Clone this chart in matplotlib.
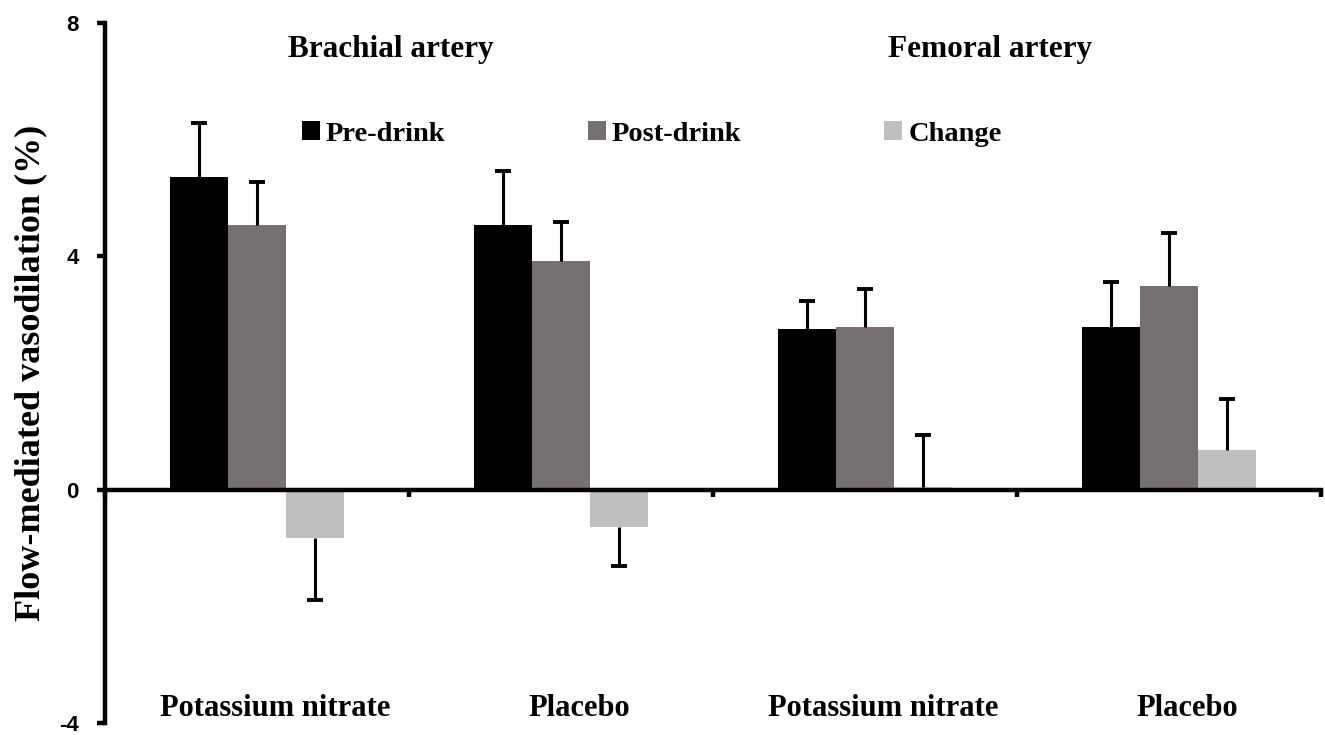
import numpy as np
import matplotlib.pyplot as plt
from matplotlib.patches import Patch

# datos
categories = ['Potassium nitrate', 'Placebo', 'Potassium nitrate', 'Placebo']
arteries = ['Brachial artery', 'Femoral artery']
series = ['Pre-drink', 'Post-drink', 'Change']
pre = [5.36, 4.54, 2.75, 2.79]
pre_err = [0.93, 0.92, 0.49, 0.78]
post = [4.54, 3.92, 2.79, 3.49]
post_err = [0.73, 0.67, 0.65, 0.91]
change = [-0.83, -0.63, 0.04, 0.69]
change_err = [1.06, 0.67, 0.90, 0.87]
yticks = [-4, 0, 4, 8]

colors = ['#000000', '#767170', '#BFBFBF']
serif = ['Liberation Serif', 'DejaVu Serif']

fig = plt.figure(figsize=(13.25, 7.35), dpi=100)
ax = fig.add_axes([0.0792, 0.016, 0.9178, 0.9527])

x = np.arange(len(categories))
w = 0.19
for i, (vals, errs) in enumerate([(pre, pre_err), (post, post_err), (change, change_err)]):
    vals = np.array(vals)
    errs = np.array(errs)
    xpos = x + (i - 1) * w
    ax.bar(xpos, vals, w, color=colors[i], zorder=2)
    # barra de error solo hacia fuera del cero, sin tope en la barra
    tips = vals + np.where(vals < 0, -errs, errs)
    ax.vlines(xpos, vals, tips, color='black', lw=2.2, zorder=3)
    ax.plot(xpos, tips, ls='none', marker='_', markersize=11, mew=2.8,
            color='black', zorder=3)

ax.set_xlim(-0.5, 3.5)
ax.set_ylim(-4, 8)

# ejes estilo Excel
for s in ['top', 'right']:
    ax.spines[s].set_visible(False)
ax.spines['bottom'].set_position(('data', 0))
ax.spines['bottom'].set_linewidth(3.2)
ax.spines['left'].set_linewidth(3.2)
ax.spines['bottom'].set_zorder(4)
ax.set_xticks(np.arange(-0.5, 3.6, 1.0))
ax.set_xticklabels([])
ax.tick_params(axis='x', direction='out', length=5, width=3.2)
ax.set_yticks(yticks)
ax.set_yticklabels([str(t) for t in yticks], fontsize=16, fontweight='bold',
                   family=['Liberation Sans', 'DejaVu Sans'])
ax.tick_params(axis='y', direction='out', length=6, width=3.2, pad=13)

ax.set_ylabel('Flow-mediated vasodilation (%)', fontsize=26, fontweight='bold',
              family=serif, labelpad=8)

# nombres de categoria abajo
for xi, name in zip(x, categories):
    ax.text(xi + 0.06, -3.75, name, ha='center', va='center', fontsize=22,
            fontweight='bold', family=serif)

# titulos de arteria
ax.text(0.44, 7.55, arteries[0], ha='center', va='center', fontsize=22.5,
        fontweight='bold', family=serif)
ax.text(2.41, 7.55, arteries[1], ha='center', va='center', fontsize=22.5,
        fontweight='bold', family=serif)

handles = [Patch(facecolor=c, edgecolor='none') for c in colors]
ax.legend(handles, series, loc='center left', bbox_to_anchor=(0.1, 6.1),
          bbox_transform=ax.transData, ncol=3, frameon=False, borderpad=0,
          handlelength=0.65, handleheight=0.65, handletextpad=0.2,
          columnspacing=5.0, prop={'family': serif, 'weight': 'bold', 'size': 20.5})

fig.savefig('out.png', dpi=100)
